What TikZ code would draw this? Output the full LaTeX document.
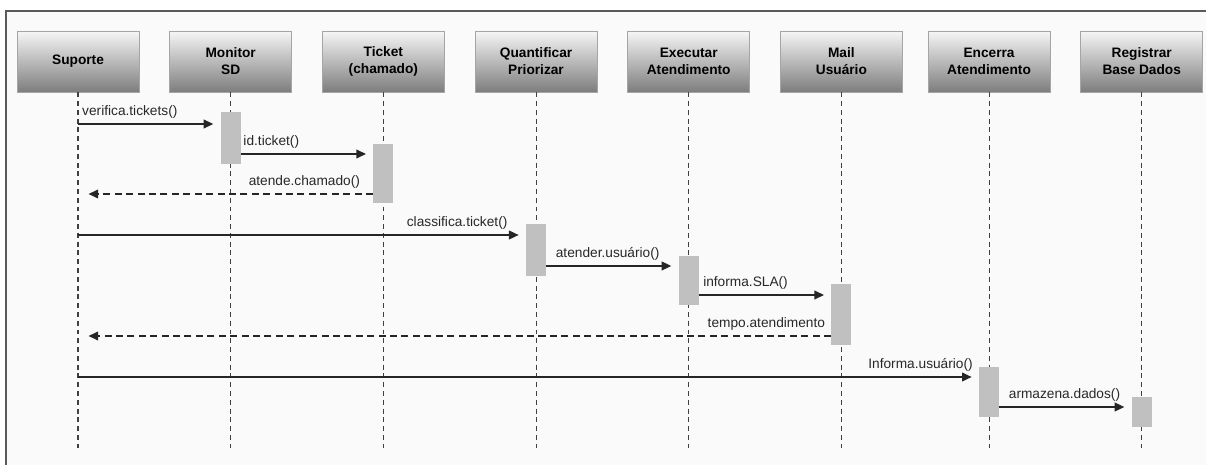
\documentclass[tikz,border=0pt]{standalone}
\usepackage{fontspec}
\setmainfont{Liberation Sans}
\usetikzlibrary{arrows.meta,positioning}
\definecolor{bgpaper}{RGB}{250,250,250}
\definecolor{frameline}{RGB}{90,90,90}
\definecolor{headtop}{RGB}{246,246,246}
\definecolor{headbot}{RGB}{125,125,125}
\definecolor{headline}{RGB}{165,165,165}
\definecolor{actfill}{RGB}{192,192,192}
\definecolor{msgtext}{RGB}{40,40,40}
\tikzstyle{head}=[rectangle,draw=headline,top color=headtop,bottom color=headbot,align=center,minimum width=2.44cm,minimum height=1.22cm,inner sep=1pt,font=\fontsize{7.8}{9.6}\selectfont\bfseries]
\tikzstyle{life}=[dash pattern=on 2.8pt off 2.2pt,line width=0.6pt,draw=black!75]
\tikzstyle{act}=[rectangle,fill=actfill,minimum width=0.4cm,inner sep=0pt]
\tikzstyle{msg}=[-{Triangle[length=5.5pt,width=5pt]},line width=0.8pt,draw=black!85,shorten >=4pt]
\tikzstyle{ret}=[msg,dash pattern=on 4pt off 2.5pt,shorten >=6pt]
\tikzstyle{lbl}=[font=\fontsize{7.8}{9}\selectfont,text=msgtext,inner sep=0pt,yshift=5pt]

\begin{document}
\begin{tikzpicture}[x=0.02cm,y=-0.02cm,node distance=0.6cm]
\useasboundingbox (0,0) rectangle (1206,465);
\fill[bgpaper] (6,11) rectangle (1206,465);
\draw[frameline,line width=0.8pt] (6,465) -- (6,11) -- (1206,11);
% lifeline heads
\node[head] (A) at (78,61.5) {Suporte};
\node[head, right=of A] (B) {Monitor\\SD};
\node[head, right=of B] (C) {Ticket\\(chamado)};
\node[head, right=of C] (D) {Quantificar\\Priorizar};
\node[head, right=of D] (E) {Executar\\Atendimento};
\node[head, right=of E] (F) {Mail\\Usuário};
\node[head, right=0.5cm of F] (G) {Encerra\\Atendimento};
\node[head, right=of G] (H) {Registrar\\Base Dados};
\foreach \n in {A,B,C,D,E,F,G,H}
  \draw[life] (\n.south) -- (\n.south |- 0,448);
% activations
\node[act, minimum height=1.04cm] (Ba) at (B.south |- 0,138) {};
\node[act, minimum height=1.18cm] (Ca) at (C.south |- 0,173.5) {};
\node[act, minimum height=1.04cm] (Da) at (D.south |- 0,250) {};
\node[act, minimum height=0.98cm] (Ea) at (E.south |- 0,280.5) {};
\node[act, minimum height=1.22cm] (Fa) at (F.south |- 0,314.5) {};
\node[act, minimum height=1.0cm] (Ga) at (G.south |- 0,392) {};
\node[act, minimum height=0.6cm] (Ha) at (H.south |- 0,412) {};
\coordinate (A1) at (A.south |- 0,124);
\coordinate (A2) at (A.south |- 0,194);
\coordinate (A3) at (A.south |- 0,235);
\coordinate (A4) at (A.south |- 0,336);
\coordinate (A5) at (A.south |- 0,377);
% messages
\draw[msg] (A1) -- node[lbl, pos=0, anchor=base west, xshift=2pt] (m1) {verifica.tickets()} (Ba.west |- A1);
\draw[msg] (Ba.east |- 0,154) -- node[lbl, pos=0, anchor=base west, xshift=1pt] (m2) {id.ticket()} (Ca.west |- 0,154);
\draw[ret] (Ca.west |- A2) -- node[lbl, pos=0, anchor=base east, xshift=-7pt] (m3) {atende.chamado()} (A2);
\draw[msg] (A3) -- node[lbl, pos=1, anchor=base east, xshift=-10pt] (m4) {classifica.ticket()} (Da.west |- A3);
\draw[msg] (Da.east |- 0,266) -- node[lbl, pos=0, anchor=base west, xshift=5pt] (m5) {atender.usuário()} (Ea.west |- 0,266);
\draw[msg] (Ea.east |- 0,295) -- node[lbl, pos=0, anchor=base west, xshift=2pt] (m6) {informa.SLA()} (Fa.west |- 0,295);
\draw[ret] (Fa.west |- A4) -- node[lbl, pos=0, anchor=base east, xshift=-3pt] (m7) {tempo.atendimento} (A4);
\draw[msg] (A5) -- node[lbl, pos=1, anchor=base east, xshift=-3pt] (m8) {Informa.usuário()} (Ga.west |- A5);
\draw[msg] (Ga.east |- 0,407) -- node[lbl, pos=0, anchor=base west, xshift=5pt] (m9) {armazena.dados()} (Ha.west |- 0,407);
\end{tikzpicture}
\end{document}
